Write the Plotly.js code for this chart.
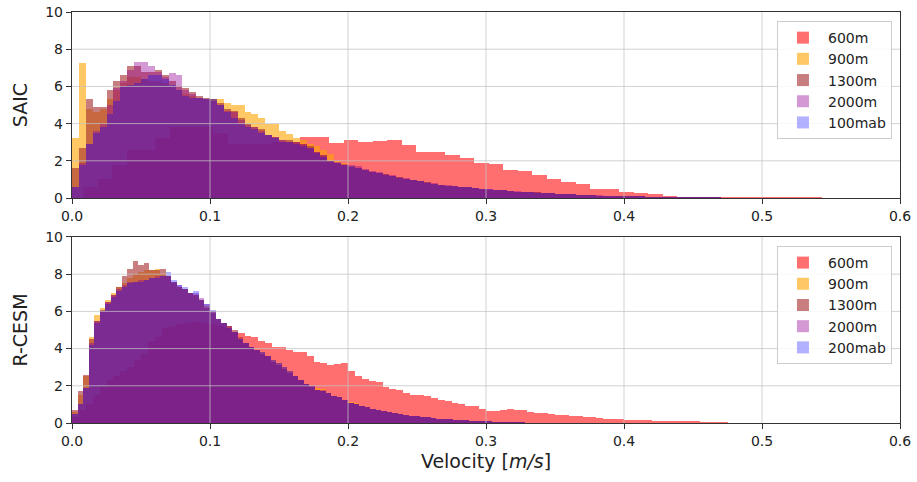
<!DOCTYPE html>
<html><head><meta charset="utf-8">
<script src="https://cdn.plot.ly/plotly-3.0.1.min.js"></script>
<style>html,body{margin:0;padding:0;background:#fff}#chart{width:917px;height:482px}</style>
</head><body><div id="chart"></div>
<script>
// ---------- DATA ----------
const namesTop = ['600m','900m','1300m','2000m','100mab'];
const namesBottom = ['600m','900m','1300m','2000m','200mab'];
const xTicks = [0.0,0.1,0.2,0.3,0.4,0.5,0.6];
const yTicks = [0,2,4,6,8,10];

// SAIC (top) — 600m bins: start 0.008, width 0.0105
const topRedStart = 0.008, topRedWidth = 0.0105;
const topRed = [0.6,1.0,1.8,2.6,2.6,3.2,3.8,3.8,3.8,3.5,
2.9,2.9,2.9,3.0,3.0,3.26,3.26,2.94,3.12,3.0,
3.05,3.12,2.85,2.49,2.49,2.3,2.15,1.9,1.85,1.5,
1.47,1.22,1.0,0.88,0.73,0.48,0.46,0.3,0.28,0.2,
0.11,0.08,0.07,0.05,0.04,0.04,0.03,0.03,0.03,0.03,
0.03,0.02,0.02];
// other depths: start 0, width 0.005
const topStart = 0, topWidth = 0.005;
const top900 = [3.2,7.25,4.8,4.6,4.8,5.3,5.8,6.2,6.5,6.5,
6.4,6.3,6.3,6.2,6.0,5.8,5.6,5.5,5.4,5.3,
5.3,5.3,5.1,5.0,5.0,4.6,4.5,4.3,4.0,4.0,
3.6,3.45,3.2,3.1,2.9,2.8,2.6,2.35,2.0,1.9,
1.7,1.6,1.5,1.4,1.35,1.3,1.2,1.15,1.0,0.95,
0.9,0.85,0.75,0.7,0.65,0.65,0.6,0.6,0.55,0.5,
0.45,0.45,0.42,0.4,0.35,0.33,0.32,0.3,0.27,0.25,
0.24,0.22,0.2,0.18,0.16,0.15,0.13,0.12,0.11,0.11,
0.1,0.1,0.09,0.08,0.07,0.07,0.06,0.06,0.05,0.04,
0.04,0.04,0.03,0.03,0.02,0.02,0.02,0.02,0.02,0.02,
0.02,0.02,0.01,0.01,0.01,0.01,0.01,0.01];
const top1300 = [1.6,2.7,5.3,4.9,4.9,5.8,6.3,6.6,7.1,7.1,
6.8,6.8,6.9,6.6,6.3,6.0,5.9,5.7,5.5,5.4,
5.3,5.1,4.8,4.7,4.3,4.0,3.8,3.7,3.4,3.3,
3.1,3.1,3.0,2.9,2.8,2.5,2.3,2.0,1.9,1.8,
1.65,1.6,1.5,1.4,1.35,1.3,1.2,1.15,1.0,0.95,
0.9,0.85,0.75,0.7,0.65,0.65,0.6,0.6,0.55,0.5,
0.45,0.45,0.42,0.4,0.35,0.33,0.32,0.3,0.27,0.25,
0.24,0.22,0.2,0.18,0.16,0.15,0.13,0.12,0.11,0.11,
0.1,0.1,0.09,0.08,0.07,0.07,0.06,0.06,0.05,0.04,
0.04,0.04,0.03,0.03,0.02,0.02,0.02,0.02,0.02,0.02,
0.02,0.01,0.01,0.01,0.01,0.01,0.01,0.01];
const top2000 = [0.6,1.9,2.9,3.6,4.0,5.0,5.9,6.3,6.9,7.3,
7.3,7.1,6.8,6.5,6.7,6.6,5.8,5.6,5.4,5.3,
5.2,5.0,4.7,4.6,4.2,3.9,3.8,3.6,3.4,3.3,
3.1,3.0,3.0,2.9,2.7,2.5,2.3,2.0,1.95,1.85,
1.75,1.7,1.55,1.45,1.4,1.3,1.25,1.15,1.05,0.95,
0.9,0.85,0.8,0.7,0.68,0.65,0.6,0.58,0.55,0.5,
0.47,0.45,0.43,0.4,0.36,0.34,0.32,0.3,0.28,0.26,
0.24,0.22,0.2,0.18,0.17,0.15,0.14,0.12,0.11,0.11,
0.1,0.1,0.09,0.08,0.07,0.07,0.06,0.06,0.05,0.04,
0.04,0.04,0.03,0.03,0.02,0.02,0.02,0.02,0.02,0.02,
0.02,0.02,0.02,0.01,0.01,0.01,0.01,0.01];
const top100mab = [0.6,1.8,2.9,3.5,3.8,4.5,5.2,6.0,6.1,6.2,
6.4,6.6,6.6,6.4,6.1,5.8,5.5,5.4,5.4,5.3,
5.3,5.0,4.6,4.3,4.0,3.8,3.7,3.5,3.4,3.2,
3.0,3.0,2.9,2.8,2.7,2.4,2.2,2.0,1.9,1.8,
1.7,1.6,1.5,1.4,1.35,1.25,1.2,1.1,1.0,0.95,
0.9,0.8,0.75,0.7,0.65,0.62,0.6,0.58,0.52,0.5,
0.46,0.45,0.42,0.4,0.35,0.33,0.31,0.29,0.27,0.25,
0.23,0.21,0.2,0.18,0.16,0.15,0.13,0.12,0.11,0.11,
0.1,0.09,0.09,0.08,0.07,0.07,0.06,0.06,0.05,0.04,
0.04,0.04,0.03,0.03,0.02,0.02,0.02,0.02,0.02,0.02,
0.02,0.02,0.01,0.01,0.01,0.01,0.01,0.01];

// R-CESM (bottom) — 600m bins: start 0, width 0.005
const botRedStart = 0, botRedWidth = 0.005;
const botRed = [0.3,0.7,1.0,1.5,1.95,2.3,2.5,2.8,3.0,3.4,
3.7,4.4,4.6,5.1,5.2,5.3,5.4,5.45,5.45,5.4,
5.3,5.2,5.1,4.9,4.85,4.7,4.6,4.4,4.3,4.1,
4.1,3.9,3.8,3.8,3.6,3.3,3.2,3.1,3.15,3.2,
2.8,2.5,2.35,2.25,2.2,1.95,1.85,1.75,1.6,1.5,
1.5,1.45,1.35,1.25,1.2,1.05,1.0,0.92,0.9,0.75,
0.62,0.62,0.7,0.73,0.7,0.68,0.58,0.55,0.52,0.5,
0.45,0.42,0.38,0.35,0.32,0.3,0.27,0.24,0.22,0.2,
0.17,0.16,0.15,0.14,0.13,0.12,0.12,0.11,0.1,0.1,
0.09,0.08,0.07,0.06,0.05];
// other depths: start 0, width 0.004
const botStart = 0, botWidth = 0.004;
const bot900 = [0.6,1.5,2.5,4.6,5.8,6.2,6.6,7.0,7.3,7.5,
7.8,8.0,8.1,8.2,8.2,8.3,8.0,7.9,7.5,7.3,
7.2,7.0,6.9,6.6,6.3,6.0,5.6,5.4,5.2,4.9,
4.5,4.3,4.1,3.9,3.8,3.6,3.4,3.2,3.0,2.8,
2.5,2.3,2.1,2.0,1.9,1.85,1.6,1.45,1.4,1.25,
1.15,1.1,0.9,0.85,0.75,0.7,0.65,0.6,0.52,0.5,
0.45,0.4,0.35,0.33,0.3,0.27,0.23,0.21,0.2,0.18,
0.17,0.15,0.13,0.12,0.11,0.09,0.07,0.06,0.05,0.05,
0.04,0.03,0.02,0.02,0.01];
const bot1300 = [0.7,1.7,2.6,4.5,5.5,6.1,6.5,6.9,7.3,7.9,
8.3,8.7,8.5,8.6,8.2,8.2,8.3,7.9,7.6,7.3,
7.2,7.0,6.9,6.6,6.2,5.9,5.6,5.4,5.2,5.0,
4.6,4.3,4.1,3.9,3.7,3.6,3.3,3.1,2.9,2.7,
2.5,2.3,2.1,1.95,1.8,1.7,1.6,1.45,1.4,1.25,
1.1,1.0,0.9,0.85,0.75,0.7,0.65,0.58,0.52,0.5,
0.45,0.38,0.35,0.33,0.3,0.27,0.23,0.21,0.2,0.18,
0.17,0.15,0.13,0.12,0.11,0.09,0.07,0.06,0.05,0.05,
0.04,0.03,0.02,0.02,0.01];
const bot2000 = [0.5,1.0,1.9,4.3,5.5,6.0,6.5,6.9,7.2,7.4,
7.6,7.6,7.7,7.7,7.8,7.9,7.9,7.9,7.6,7.4,
7.2,7.0,7.0,6.7,6.4,6.0,5.6,5.4,5.2,4.9,
4.5,4.3,4.1,3.9,3.8,3.6,3.4,3.2,3.0,2.8,
2.5,2.3,2.1,2.0,1.8,1.75,1.6,1.45,1.4,1.25,
1.1,1.0,0.9,0.85,0.75,0.7,0.65,0.58,0.52,0.5,
0.45,0.38,0.35,0.33,0.3,0.27,0.23,0.21,0.2,0.18,
0.17,0.15,0.13,0.12,0.11,0.09,0.07,0.06,0.05,0.05,
0.04,0.03,0.02,0.02,0.01];
const bot200mab = [0.5,1.0,1.9,4.2,5.4,6.0,6.4,6.8,7.1,7.3,
7.5,7.6,7.6,7.7,7.8,7.8,7.9,8.1,7.7,7.4,
7.3,7.0,7.1,6.6,6.4,6.1,5.6,5.4,5.1,4.9,
4.5,4.3,4.1,3.9,3.8,3.6,3.4,3.2,3.0,2.8,
2.5,2.3,2.1,2.0,1.8,1.7,1.6,1.45,1.4,1.25,
1.1,1.0,0.9,0.85,0.75,0.7,0.65,0.58,0.52,0.5,
0.45,0.38,0.35,0.33,0.3,0.27,0.23,0.21,0.2,0.18,
0.17,0.15,0.13,0.12,0.11,0.09,0.07,0.06,0.05,0.05,
0.04,0.03,0.02,0.02,0.01];

// ---------- STYLE ----------
const colors = ['rgb(255,0,0)','rgb(255,165,0)','rgb(165,42,42)','rgb(150,0,150)','rgb(0,0,255)'];
const opac = [0.56,0.6,0.6,0.4,0.3];
const FONT = 'DejaVu Sans, Liberation Sans, sans-serif';

function centers(start, width, vals){ return vals.map((_, i) => start + width*(i+0.5)); }
function barTrace(name, vals, start, width, idx, xa, ya, legend){
  return {type:'bar', name:name, x:centers(start,width,vals), y:vals, width:width,
    xaxis:xa, yaxis:ya, legend:legend,
    marker:{color:colors[idx], line:{width:0}}, opacity:opac[idx], hoverinfo:'skip'};
}

const traces = [
  barTrace(namesTop[0], topRed, topRedStart, topRedWidth, 0, 'x', 'y', 'legend'),
  barTrace(namesTop[1], top900, topStart, topWidth, 1, 'x', 'y', 'legend'),
  barTrace(namesTop[2], top1300, topStart, topWidth, 2, 'x', 'y', 'legend'),
  barTrace(namesTop[3], top2000, topStart, topWidth, 3, 'x', 'y', 'legend'),
  barTrace(namesTop[4], top100mab, topStart, topWidth, 4, 'x', 'y', 'legend'),
  barTrace(namesBottom[0], botRed, botRedStart, botRedWidth, 0, 'x2', 'y2', 'legend2'),
  barTrace(namesBottom[1], bot900, botStart, botWidth, 1, 'x2', 'y2', 'legend2'),
  barTrace(namesBottom[2], bot1300, botStart, botWidth, 2, 'x2', 'y2', 'legend2'),
  barTrace(namesBottom[3], bot2000, botStart, botWidth, 3, 'x2', 'y2', 'legend2'),
  barTrace(namesBottom[4], bot200mab, botStart, botWidth, 4, 'x2', 'y2', 'legend2')
];

// gridlines drawn above the bars (as in the reference)
const gridColor = 'rgba(195,195,195,0.75)';
const shapes = [];
[['x','y'],['x2','y2']].forEach(([xa,ya]) => {
  xTicks.slice(1,-1).forEach(v => shapes.push({type:'line', layer:'above', xref:xa, yref:ya+' domain', x0:v, x1:v, y0:0, y1:1, line:{color:gridColor, width:1}}));
  yTicks.slice(1,-1).forEach(v => shapes.push({type:'line', layer:'above', xref:xa+' domain', yref:ya, x0:0, x1:1, y0:v, y1:v, line:{color:gridColor, width:1}}));
});

const axX = (anchor) => ({anchor:anchor, range:[0,0.6], tickvals:xTicks, tickformat:'.1f',
  showgrid:false, zeroline:false, showline:true, linecolor:'#333', linewidth:1.2, mirror:true,
  ticks:'outside', ticklen:5, tickcolor:'#333', tickfont:{family:FONT, size:14, color:'#222'}});
const axY = (anchor, domain, title) => ({anchor:anchor, domain:domain, range:[0,10], tickvals:yTicks,
  showgrid:false, zeroline:false, showline:true, linecolor:'#333', linewidth:1.2, mirror:true,
  ticks:'outside', ticklen:5, tickcolor:'#333', tickfont:{family:FONT, size:14, color:'#222'},
  title:{text:title, font:{family:FONT, size:19, color:'#222'}, standoff:12}});

const xaxis2 = axX('y2');
xaxis2.title = {text:'Velocity [<i>m/s</i>]', font:{family:FONT, size:19, color:'#222'}, standoff:6};

const legendBase = {xanchor:'right', yanchor:'top', bgcolor:'rgba(255,255,255,0.85)', bordercolor:'#cccccc', borderwidth:1,
  font:{family:FONT, size:14, color:'#222'}, itemwidth:40, itemclick:false, itemdoubleclick:false};

const layout = {
  width:917, height:482, paper_bgcolor:'#fff', plot_bgcolor:'#fff',
  margin:{l:72, r:17, t:12, b:59},
  barmode:'overlay', bargap:0, showlegend:true,
  xaxis:axX('y'), yaxis:axY('x', [0.5474,1], 'SAIC'),
  xaxis2:xaxis2, yaxis2:axY('x2', [0,0.4526], 'R-CESM'),
  legend:Object.assign({x:0.9903, y:0.978}, legendBase),
  legend2:Object.assign({x:0.9903, y:0.4307}, legendBase),
  shapes:shapes
};

Plotly.newPlot('chart', traces, layout, {staticPlot:true, displayModeBar:false});
</script></body></html>
